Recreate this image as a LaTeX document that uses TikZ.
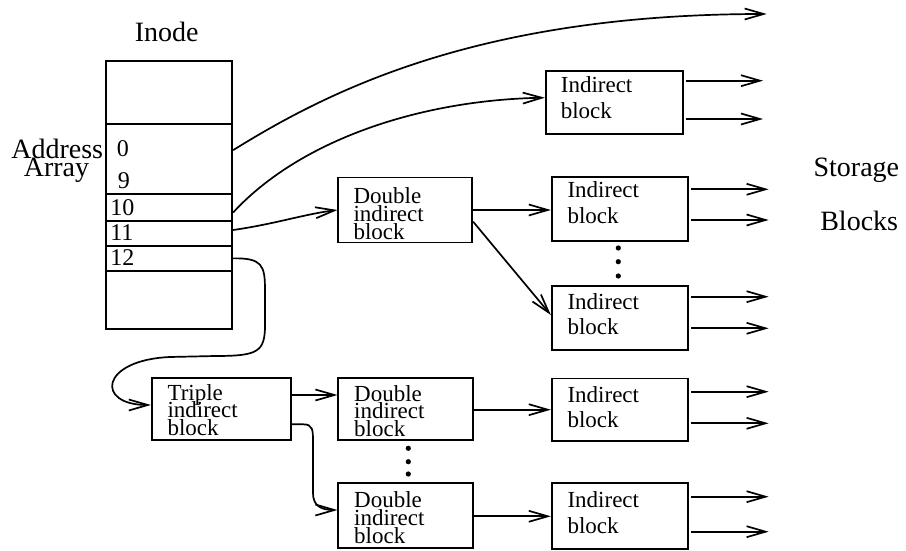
\documentclass[tikz,border=0pt]{standalone}
\usepackage{fontspec}
\setmainfont{Liberation Serif}
\usetikzlibrary{arrows.meta,calc}

\begin{document}
\begin{tikzpicture}[x=1pt,y=-1pt,line width=1.7pt,
  blk/.style={draw,rectangle,inner sep=0pt},
  slot/.style={draw,rectangle,inner sep=0pt,minimum width=126.6pt},
  big/.style={inner sep=0pt,font=\fontsize{28}{28}\selectfont},
  num/.style={inner sep=0pt,anchor=base west,font=\fontsize{24}{24}\selectfont},
  two/.style={anchor=north west,inner sep=0pt,align=left,
    font=\fontsize{23}{25.5}\selectfont\setlength{\lineskiplimit}{-50pt}},
  three/.style={anchor=north west,inner sep=0pt,align=left,
    font=\fontsize{23}{17.8}\selectfont\setlength{\lineskiplimit}{-50pt}},
  link/.style={-{Straight Barb[length=19pt,width=11pt]}},
  dot/.style={fill=black}]
\useasboundingbox (0,0) rectangle (906,551);

% inode with its address array
\node[slot,minimum height=63.3pt] (r0) at (169,92.65) {};
\node[slot,minimum height=69.7pt] (r1) at (169,159.15) {};
\node[slot,minimum height=27pt]   (r2) at (169,207.5) {};
\node[slot,minimum height=25pt]   (r3) at (169,233.5) {};
\node[slot,minimum height=24.7pt] (r4) at (169,258.35) {};
\node[slot,minimum height=58.6pt] (r5) at (169,300) {};

\node[big,anchor=base] (inodelbl) at (166.7,41.7) {Inode};
\node[big,anchor=base east] (addrlbl) at (104,158.3) {Address};
\node[big,anchor=base] (arraylbl) at (56.5,176) {Array};
\node[num] (n0) at (116,156.7) {0};
\node[num] (n9) at (117,188) {9};
\node[num] (n10) at (109.5,215) {10};
\node[num] (n11) at (109.5,240) {11};
\node[num] (n12) at (109.5,265) {12};

\node[big,anchor=base] (storlbl) at (856.4,176.5) {Storage};
\node[big,anchor=base] (blkslbl) at (859.2,230) {Blocks};

% blocks
\node[blk,minimum width=137pt,minimum height=63.6pt] (ib1) at (614.2,102.5) {};
\node[blk,minimum width=134pt,minimum height=65pt] (db1) at (405.3,210) {};
\node[blk,minimum width=136.6pt,minimum height=64.3pt] (ib2) at (620,208.9) {};
\node[blk,minimum width=136.6pt,minimum height=64pt] (ib3) at (620,318) {};
\node[blk,minimum width=139pt,minimum height=62.3pt] (tb) at (221.2,408.9) {};
\node[blk,minimum width=134.4pt,minimum height=62.3pt] (db2) at (405.5,408.9) {};
\node[blk,minimum width=134.4pt,minimum height=65pt] (db3) at (405.5,515.8) {};
\node[blk,minimum width=136.6pt,minimum height=62.7pt] (ib4) at (620,409.7) {};
\node[blk,minimum width=136.6pt,minimum height=66pt] (ib5) at (620,516.3) {};

% block labels
\node[two] (ib1t) at (560,76) {Indirect\\block};
\node[two] (ib2t) at (566.7,181) {Indirect\\block};
\node[two] (ib3t) at (566.7,292.6) {Indirect\\block};
\node[two] (ib4t) at (566.7,385.3) {Indirect\\block};
\node[two] (ib5t) at (566.7,491) {Indirect\\block};
\node[three] (db1t) at (352.7,187) {Double\\indirect\\block};
\node[three] (tbt) at (166.7,383.3) {Triple\\indirect\\block};
\node[three] (db2t) at (353.3,384.3) {Double\\indirect\\block};
\node[three] (db3t) at (353.3,491) {Double\\indirect\\block};

% pointers leaving the inode
\coordinate (direct) at (766.7,14);
\draw[link] ($(r1.east)+(0,-9)$) .. controls (330,90) and (480,14) .. (direct);
\draw[link] ($(r2.east)+(0,5)$) .. controls (300,140) and (420,100) .. ($(ib1.west)+(0,-4.8)$);
\draw[link] ($(r3.east)+(0,-3.5)$) .. controls (275,224) and (305,214) .. (db1.west);
\draw[link] (r4.east) .. controls (262,258) and (265,265) .. (265,290) -- (265,325)
  .. controls (265,352) and (258,356) .. (215,356) -- (170,357)
  .. controls (100,360) and (95,405) .. ($(tb.west)+(0,-3.9)$);

% double indirect fan-out
\draw[link] (db1.east) -- (ib2.west |- db1.east);
\draw[link] ($(db1.east)+(0,11.7)$) -- ($(ib3.west)+(0,-3)$);

% triple indirect fan-out
\draw[link] ($(tb.east)+(0,-13.9)$) -- ($(db2.west)+(0,-13.9)$);
\draw[link] ($(tb.east)+(0,15.4)$) -- (303,424.3) .. controls (313,424.3) and (313,430) .. (313,442)
  -- (313,493) .. controls (313,505) and (320,510) .. ($(db3.west)+(0,-5.8)$);
\draw[link] (db2.east |- ib4.west) -- (ib4.west);
\draw[link] (db3.east |- ib5.west) -- (ib5.west);

% pointers to storage blocks
\foreach \b/\ya/\yb in {ib1/80.7/119, ib2/189.3/220, ib3/296.7/328.3, ib4/391.7/423.3, ib5/496.7/531.7}{
  \coordinate (\b-oa) at ($(\b.east |- 0,\ya)+(79.5,0)$);
  \coordinate (\b-ob) at ($(\b.east |- 0,\yb)+(79.5,0)$);
  \draw[link] ([xshift=2.3pt]\b.east |- 0,\ya) -- (\b-oa);
  \draw[link] ([xshift=2.3pt]\b.east |- 0,\yb) -- (\b-ob);
}

% ellipses
\foreach \y in {248,261.7,276} \fill[dot] (618.3,\y) circle (2.6);
\foreach \y in {448.3,461.7,474} \fill[dot] (408.3,\y) circle (2.6);
\end{tikzpicture}
\end{document}
